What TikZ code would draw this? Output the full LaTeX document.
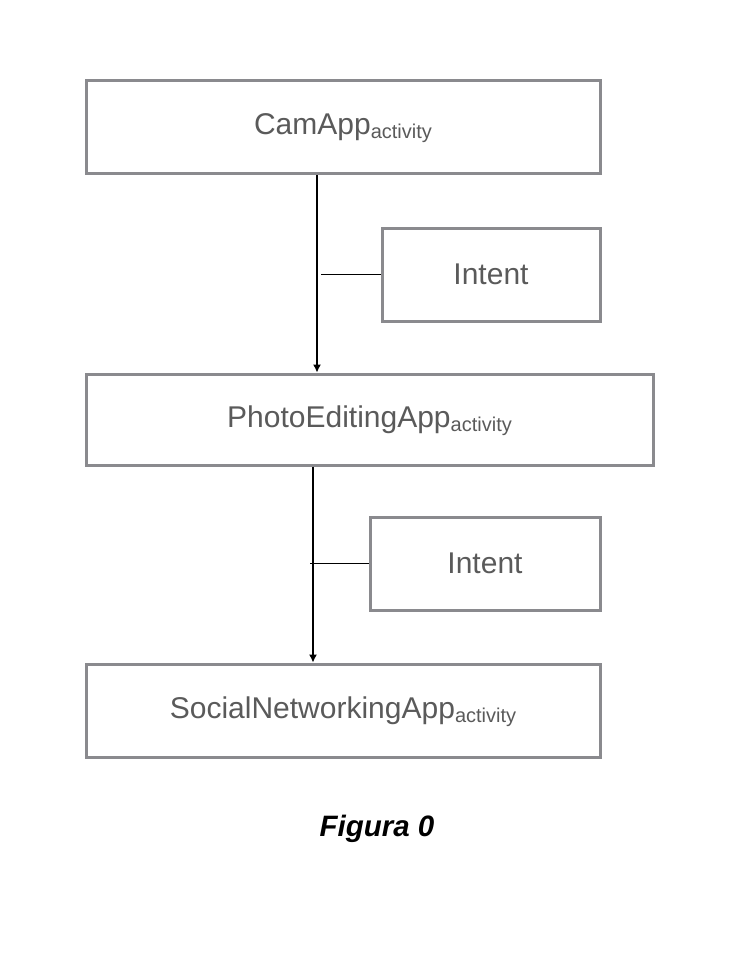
\documentclass[tikz,border=0pt]{standalone}
\usepackage{fontspec}
\setmainfont{Liberation Sans}
\usepackage{tikz}
\usetikzlibrary{positioning, arrows.meta, calc}
\definecolor{boxline}{HTML}{8A8A8E}
\definecolor{boxtext}{HTML}{5A5A5A}
\newcommand\actsub{\raisebox{-4pt}[0pt][0pt]{\fontsize{20}{20}\selectfont activity}}
\tikzset{
    appbox/.style={draw=boxline, line width=3pt, text=boxtext,
        minimum height=93pt, inner sep=0pt,
        font=\fontsize{30}{30}\selectfont},
    flow/.style={-{Latex[length=8pt,width=8pt]}, line width=1.2pt},
    tie/.style={line width=1.2pt}
}

\begin{document}
\begin{tikzpicture}[x=1pt, y=-1pt]
    \useasboundingbox (0,0) rectangle (744,960);

    % boxes
    \node[appbox, minimum width=514pt] (cam) at (343,127.5) {CamApp\actsub};
    \node[appbox, minimum width=218pt] (intent1) at (491,274.5) {Intent};
    \node[appbox, minimum width=567pt, minimum height=91pt] (photo) at (369.5,419.5) {PhotoEditingApp\actsub};
    \node[appbox, minimum width=230pt] (intent2) at (485,563.5) {Intent};
    \node[appbox, minimum width=514pt] (social) at (343,710.5) {SocialNetworkingApp\actsub};

    % caption
    \node[font=\fontsize{29.5}{29.5}\selectfont\bfseries\itshape] (caption) at (377,829) {Figura 0};

    % connectors
    \coordinate (x1) at (317,0);
    \coordinate (x2) at (313,0);
    \coordinate (t1) at (321,274.5);
    \coordinate (t2) at (310,563.5);

    \draw[flow] (cam.south -| x1) -- (photo.north -| x1);
    \draw[flow] (photo.south -| x2) -- (social.north -| x2);
    \draw[tie] (intent1.west) -- (t1);
    \draw[tie] (intent2.west) -- (t2);
\end{tikzpicture}
\end{document}
